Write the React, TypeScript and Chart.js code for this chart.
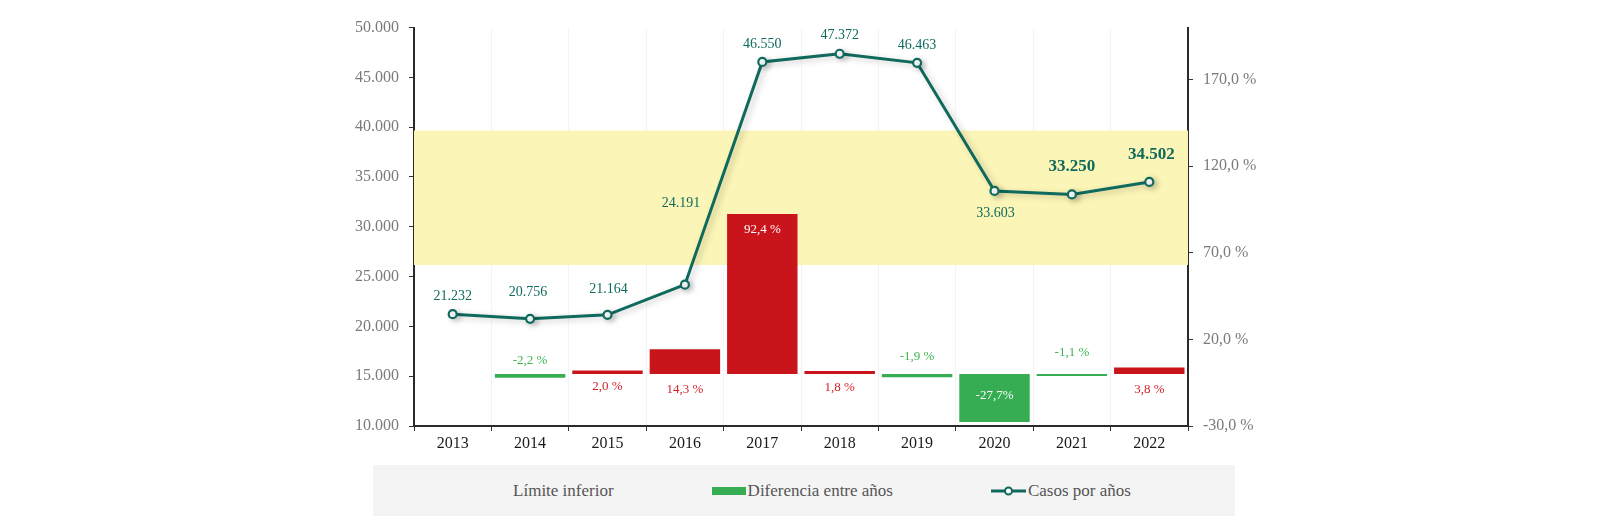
import React, { useEffect, useRef } from "react";
import { Chart, registerables } from "chart.js";

Chart.register(...registerables);

// ---- Data ----
const years = ["2013", "2014", "2015", "2016", "2017", "2018", "2019", "2020", "2021", "2022"];
const casosPorAnos = [21232, 20756, 21164, 24191, 46550, 47372, 46463, 33603, 33250, 34502];
const casosDestacados = [false, false, false, false, false, false, false, false, true, true];
const diferenciaEntreAnos: (number | null)[] = [null, -2.2, 2.0, 14.3, 92.4, 1.8, -1.9, -27.7, -1.1, 3.8];
const diferenciaTexto = ["", "-2,2 %", "2,0 %", "14,3 %", "92,4 %", "1,8 %", "-1,9 %", "-27,7%", "-1,1 %", "3,8 %"];
const limiteInferior = 26170;
const limiteSuperior = 39670;
const leftTicks = { min: 10000, max: 50000, step: 5000 };
const rightTickValues = [-30, 20, 70, 120, 170];
const rightRange = { min: -30, max: 200 };

// ---- Label placement (style) ----
const casosLabelDx = [0, -2, 1, -4, 0, 0, 0, 1, 0, 2];
const casosLabelDy = [-18, -27, -25, -81, -18, -18, -18, 22, -28, -27];
const barLabelAnchor = ["base", "base", "base", "base", "top", "base", "base", "base", "base", "base"];
const barLabelDy = [0, -13, 13, 16, 16, 14, -17, 22, -21, 16];

// ---- Styles ----
const FONT = '"Liberation Serif", "Times New Roman", serif';
const TEAL = "#0F6A5D";
const RED = "#C9141B";
const GREEN = "#36AD52";
const RED_TXT = "#D5232A";
const GREEN_TXT = "#3DB54F";
const BAND = "#FBF5B7";

const fmtThousands = (v: number) => String(Math.round(v)).replace(/\B(?=(\d{3})+(?!\d))/g, ".");

const LINE_INDEX = 3;
const BAR_INDEX = 2;

const labelsPlugin = {
  id: "valueLabels",
  beforeDatasetDraw(chart: any, args: any) {
    if (args.index === LINE_INDEX) {
      const ctx = chart.ctx;
      ctx.save();
      ctx.shadowColor = "rgba(0,0,0,0.22)";
      ctx.shadowBlur = 6;
      ctx.shadowOffsetX = 3;
      ctx.shadowOffsetY = 2;
    }
  },
  afterDatasetDraw(chart: any, args: any) {
    if (args.index === LINE_INDEX) chart.ctx.restore();
  },
  afterDatasetsDraw(chart: any) {
    const ctx = chart.ctx;
    ctx.save();
    ctx.textAlign = "center";
    ctx.textBaseline = "middle";
    // bar labels
    const bMeta = chart.getDatasetMeta(BAR_INDEX);
    bMeta.data.forEach((el: any, i: number) => {
      const v = diferenciaEntreAnos[i];
      if (v === null || v === undefined) return;
      const props = el.getProps(["x", "y", "base"], true);
      const anchorY = barLabelAnchor[i] === "top" ? props.y : props.base;
      const y = anchorY + barLabelDy[i];
      const inside = Math.abs(v) > 20;
      ctx.fillStyle = inside ? "#FFFFFF" : v >= 0 ? RED_TXT : GREEN_TXT;
      ctx.font = `13px ${FONT}`;
      ctx.fillText(diferenciaTexto[i], props.x, y);
    });
    // line labels
    const lMeta = chart.getDatasetMeta(LINE_INDEX);
    lMeta.data.forEach((pt: any, i: number) => {
      const big = casosDestacados[i];
      ctx.font = `${big ? "bold 17px" : "14px"} ${FONT}`;
      ctx.fillStyle = TEAL;
      ctx.fillText(fmtThousands(casosPorAnos[i]), pt.x + casosLabelDx[i], pt.y + casosLabelDy[i]);
    });
    ctx.restore();
  },
};

export default function App() {
  const canvasRef = useRef<HTMLCanvasElement | null>(null);

  useEffect(() => {
    if (!canvasRef.current) return;
    Chart.defaults.font.family = FONT;
    const chart = new Chart(canvasRef.current, {
      type: "bar",
      data: {
        labels: years,
        datasets: [
          {
            type: "line",
            label: "Límite inferior",
            data: [
              { x: -0.5, y: limiteInferior },
              { x: 9.5, y: limiteInferior },
            ],
            xAxisID: "xBand",
            yAxisID: "y",
            borderWidth: 0,
            borderColor: "rgba(0,0,0,0)",
            pointRadius: 0,
            fill: false,
            order: 20,
          } as any,
          {
            type: "line",
            label: "Límite superior",
            data: [
              { x: -0.5, y: limiteSuperior },
              { x: 9.5, y: limiteSuperior },
            ],
            xAxisID: "xBand",
            yAxisID: "y",
            borderWidth: 0,
            borderColor: "rgba(0,0,0,0)",
            backgroundColor: BAND,
            pointRadius: 0,
            fill: "-1",
            order: 19,
          } as any,
          {
            type: "bar",
            label: "Diferencia entre años",
            data: diferenciaEntreAnos,
            xAxisID: "x",
            yAxisID: "y1",
            backgroundColor: (c: any) => (c.raw !== null && c.raw >= 0 ? RED : GREEN),
            borderWidth: 0,
            grouped: false,
            barPercentage: 0.91,
            categoryPercentage: 1.0,
            order: 10,
          } as any,
          {
            type: "line",
            label: "Casos por años",
            data: casosPorAnos,
            xAxisID: "x",
            yAxisID: "y",
            borderColor: TEAL,
            borderWidth: 3,
            pointRadius: 4,
            pointBorderWidth: 2.2,
            pointBackgroundColor: "#FFFFFF",
            pointBorderColor: TEAL,
            tension: 0,
            fill: false,
            order: 1,
          } as any,
        ],
      },
      options: {
        responsive: false,
        animation: false,
        layout: { padding: { top: 18, left: 0, right: 0, bottom: 0 } },
        plugins: {
          legend: { display: false },
          tooltip: { enabled: false },
        },
        scales: {
          x: {
            type: "category",
            offset: true,
            grid: {
              offset: true,
              color: "rgba(0,0,0,0.045)",
              tickColor: "#333",
              tickLength: 5,
              drawOnChartArea: true,
            },
            border: { color: "#2a2a2a", width: 2 },
            ticks: { color: "#1a1a1a", font: { size: 16, family: FONT }, padding: 3 },
            afterFit: (s: any) => {
              s.height = 32;
            },
          },
          xBand: {
            type: "linear",
            display: false,
            offset: false,
            grid: { offset: false },
            min: -0.5,
            max: 9.5,
          },
          y: {
            type: "linear",
            position: "left",
            min: leftTicks.min,
            max: leftTicks.max,
            grid: { drawOnChartArea: false, tickColor: "#333", tickLength: 5 },
            border: { color: "#2a2a2a", width: 2 },
            ticks: {
              stepSize: leftTicks.step,
              color: "#7a7a7a",
              font: { size: 16, family: FONT },
              padding: 10,
              callback: (v: any) => fmtThousands(Number(v)),
            },
            afterFit: (s: any) => {
              s.width = 406;
            },
          },
          y1: {
            type: "linear",
            position: "right",
            min: rightRange.min,
            max: rightRange.max,
            grid: { drawOnChartArea: false, tickColor: "#333", tickLength: 5 },
            border: { color: "#2a2a2a", width: 2 },
            afterBuildTicks: (s: any) => {
              s.ticks = rightTickValues.map((v) => ({ value: v }));
            },
            ticks: {
              color: "#7a7a7a",
              font: { size: 16, family: FONT },
              padding: 10,
              callback: (v: any) => Number(v).toFixed(1).replace(".", ",") + " %",
            },
            afterFit: (s: any) => {
              s.width = 404;
            },
          },
        },
      } as any,
      plugins: [labelsPlugin as any],
    });
    return () => chart.destroy();
  }, []);

  const legendItem: React.CSSProperties = {
    display: "flex",
    alignItems: "center",
    fontFamily: FONT,
    fontSize: 17,
    color: "#555",
    whiteSpace: "nowrap",
  };

  return (
    <div style={{ width: 1584 }}>
      <canvas ref={canvasRef} width={1584} height={450} style={{ display: "block" }} />
      <div
        style={{
          marginTop: 7,
          marginLeft: 365,
          width: 862,
          height: 51,
          background: "#F4F4F4",
          display: "flex",
          alignItems: "center",
          justifyContent: "center",
          gap: 98,
        }}
      >
        <div style={legendItem}>
          <span style={{ display: "inline-block", width: 34, height: 8, marginRight: 2 }} />
          <span>Límite inferior</span>
        </div>
        <div style={legendItem}>
          <span style={{ display: "inline-block", width: 34, height: 8, background: GREEN, marginRight: 2 }} />
          <span>Diferencia entre años</span>
        </div>
        <div style={legendItem}>
          <svg width={35} height={12} style={{ marginRight: 2 }}>
            <line x1={0} y1={6} x2={35} y2={6} stroke={TEAL} strokeWidth={3} />
            <circle cx={17.5} cy={6} r={3.5} fill="#fff" stroke={TEAL} strokeWidth={2} />
          </svg>
          <span>Casos por años</span>
        </div>
      </div>
    </div>
  );
}
